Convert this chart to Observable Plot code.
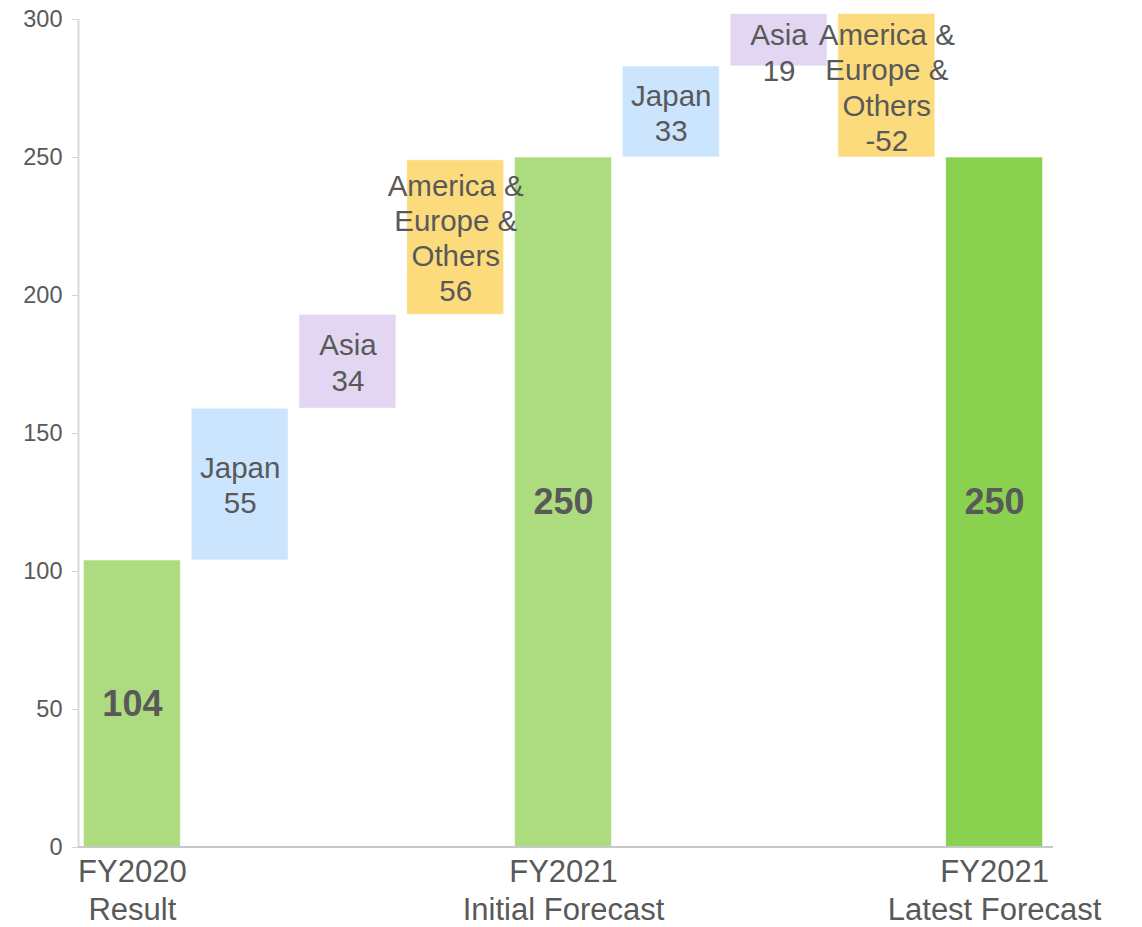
<!DOCTYPE html>
<html>
<head>
<meta charset="utf-8">
<script src="https://cdn.jsdelivr.net/npm/d3@7"></script>
<script src="https://cdn.jsdelivr.net/npm/@observablehq/plot@0.6"></script>
<style>
  html, body { margin: 0; padding: 0; background: #fff; }
  #chart { width: 1142px; height: 927px; }
</style>
</head>
<body>
<div id="chart"></div>
<script>
// ---- data ----
const steps = ["s0", "s1", "s2", "s3", "s4", "s5", "s6", "s7", "s8"];
const stepNames = ["FY2020\nResult", "Japan", "Asia", "America &\nEurope &\nOthers",
  "FY2021\nInitial Forecast", "Japan", "Asia", "America &\nEurope &\nOthers", "FY2021\nLatest Forecast"];
const values = [104, 55, 34, 56, 250, 33, 19, -52, 250];
const kinds = ["total", "japan", "asia", "other", "total", "japan", "asia", "other", "latest"];
const axisTicks = ["s0", "s4", "s8"];
const yTicks = [0, 50, 100, 150, 200, 250, 300];

const colors = {total: "#ADDC80", latest: "#8BD150", japan: "#CCE5FF", asia: "#E3D6F2", other: "#FCDB7D"};

// build waterfall rows
let running = 0;
const rows = steps.map((s, i) => {
  const k = kinds[i], v = values[i];
  let y1, y2;
  if (k === "total" || k === "latest") { y1 = 0; y2 = v; running = v; }
  else { y1 = running; y2 = running + v; running = y2; }
  const isTotal = k === "total" || k === "latest";
  const label = isTotal ? String(v) : stepNames[i] + "\n" + v;
  const nLines = label.split("\n").length;
  // keep the label block inside the plot's top edge
  const mid = (y1 + y2) / 2;
  const unitsPerLine = 35 / 2.76;
  const ly = Math.min(mid, 301 - (nLines * unitsPerLine) / 2);
  return {step: s, kind: k, value: v, y1: Math.min(y1, y2), y2: Math.max(y1, y2), label, ly, isTotal};
});

// left axis line and baseline drawn from the scales / frame
function axisLines(index, scales, values, dimensions) {
  const ns = "http://www.w3.org/2000/svg";
  const g = document.createElementNS(ns, "g");
  const x = dimensions.marginLeft + 0.5;
  const y0 = scales.y(yTicks[0]);
  const v = document.createElementNS(ns, "line");
  v.setAttribute("x1", x); v.setAttribute("x2", x);
  v.setAttribute("y1", y0); v.setAttribute("y2", scales.y(yTicks[yTicks.length - 1]));
  v.setAttribute("stroke", "#d9d9d9"); v.setAttribute("stroke-width", 2);
  g.appendChild(v);
  const h = document.createElementNS(ns, "line");
  h.setAttribute("x1", dimensions.marginLeft);
  h.setAttribute("x2", dimensions.width - dimensions.marginRight + 5);
  h.setAttribute("y1", y0); h.setAttribute("y2", y0);
  h.setAttribute("stroke", "#c8c8c8"); h.setAttribute("stroke-width", 2);
  g.appendChild(h);
  return g;
}

const chart = Plot.plot({
  width: 1142,
  height: 927,
  marginLeft: 78,
  marginRight: 94,
  marginTop: 19,
  marginBottom: 80,
  style: {fontFamily: "Liberation Sans, Arial, sans-serif", background: "#fff", color: "#595959"},
  x: {domain: steps, paddingInner: 0.1, paddingOuter: 0.05, round: false, label: null},
  y: {domain: [0, 300], label: null},
  marks: [
    Plot.axisY({ticks: yTicks, tickSize: 6, tickPadding: 10, fontSize: 23.5, stroke: "#d4d4d4", strokeOpacity: 1, color: "#595959", label: null}),
    Plot.axisX({ticks: axisTicks, tickFormat: d => stepNames[steps.indexOf(d)], tickSize: 0, tickPadding: 8, fontSize: 31, lineHeight: 1.22, color: "#595959", label: null}),
    Plot.barY(rows, {x: "step", y1: "y1", y2: "y2", fill: d => colors[d.kind], stroke: "#ffffff", strokeOpacity: 0.6, strokeWidth: 1}),
    axisLines,
    Plot.text(rows.filter(d => !d.isTotal), {x: "step", y: "ly", text: "label", fontSize: 29.5, lineHeight: 1.19, fill: "#595959"}),
    Plot.text(rows.filter(d => d.isTotal), {x: "step", y: "ly", text: "label", fontSize: 36, fontWeight: "bold", fill: "#595959"})
  ]
});
document.getElementById("chart").appendChild(chart);
</script>
</body>
</html>
